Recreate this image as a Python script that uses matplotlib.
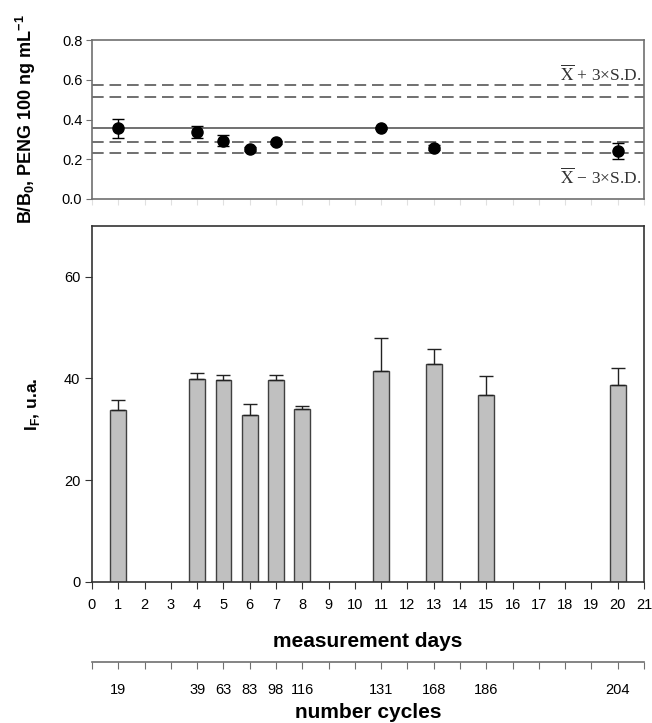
import matplotlib
matplotlib.use('Agg')
import matplotlib.pyplot as plt

plt.rcParams['font.family'] = ['Liberation Sans', 'DejaVu Sans']
plt.rcParams['mathtext.fontset'] = 'custom'
plt.rcParams['mathtext.rm'] = 'Liberation Sans'
plt.rcParams['mathtext.bf'] = 'Liberation Sans:bold'

# === data ===
# top panel: B/B0 for PENG 100 ng/mL
bb_days = [1, 4, 5, 6, 7, 11, 13, 20]
bb_vals = [0.355, 0.336, 0.293, 0.252, 0.285, 0.356, 0.258, 0.242]
bb_err = [0.05, 0.031, 0.028, 0.01, 0.006, 0.006, 0.012, 0.04]

bb_mean = 0.355
bb_limits = [0.573, 0.515, 0.288, 0.233]

# bottom panel: fluorescence intensity
if_days = [1, 4, 5, 6, 7, 8, 11, 13, 15, 20]
if_vals = [33.8, 39.8, 39.7, 32.8, 39.7, 34.0, 41.5, 42.9, 36.8, 38.8]
if_err = [1.9, 1.3, 1.0, 2.1, 1.0, 0.6, 6.4, 2.8, 3.6, 3.3]

# number of cycles at each measurement day
cycles = [19, 39, 63, 83, 98, 116, 131, 168, 186, 204]

W, H = 652, 723
fig = plt.figure(figsize=(W / 100, H / 100), dpi=100)

left = 92 / W
right = 644 / W
ax1 = fig.add_axes([left, 1 - 199 / H, right - left, (199 - 40) / H])
ax2 = fig.add_axes([left, 1 - 581.7 / H, right - left, (581.7 - 226) / H])

# --- top panel ---
grey = '#707070'
ax1.axhline(bb_mean, color=grey, lw=1.4, zorder=1)
for v in bb_limits:
    ax1.axhline(v, color=grey, lw=1.4, ls=(0, (6, 3)), zorder=1)
ax1.errorbar(bb_days, bb_vals, yerr=bb_err, fmt='o', color='black', ms=8,
             ecolor='black', elinewidth=1, capsize=4, capthick=1, zorder=3)
ax1.set_xlim(0, 21)
ax1.set_ylim(0, 0.8)
ax1.set_yticks([0.0, 0.2, 0.4, 0.6, 0.8])
ax1.set_yticklabels(['0.0', '0.2', '0.4', '0.6', '0.8'])
ax1.set_xticks(range(22))
ax1.tick_params(axis='x', direction='out', length=4, color='#e0e0e0', labelbottom=False)
ax1.tick_params(axis='y', direction='out', length=4, color=grey, labelsize=10.5, pad=3)
for s in ax1.spines.values():
    s.set_color(grey)
    s.set_linewidth(1.2)

ax1.text(20.9, 0.624, r'$\overline{\mathrm{X}}$ + 3×S.D.', ha='right', va='center',
         fontsize=12.5, color='#333333', family='Liberation Serif', math_fontfamily='stix')
ax1.text(20.9, 0.106, r'$\overline{\mathrm{X}}$ − 3×S.D.', ha='right', va='center',
         fontsize=12.5, color='#333333', family='Liberation Serif', math_fontfamily='stix')

# --- bottom panel ---
dark = '#333333'
ax2.bar(if_days, if_vals, width=0.6, color='#c0c0c0', edgecolor='#404040', linewidth=1, zorder=2)
ax2.errorbar(if_days, if_vals, yerr=[[0] * len(if_err), if_err], fmt='none',
             ecolor='#222222', elinewidth=1, capsize=5, capthick=1, zorder=3)
ax2.set_xlim(0, 21)
ax2.set_ylim(0, 70)
ax2.set_yticks([0, 20, 40, 60])
ax2.set_xticks(range(22))
ax2.tick_params(axis='both', direction='out', length=5, color=dark, labelsize=10.5)
ax2.tick_params(axis='x', pad=7)
for s in ax2.spines.values():
    s.set_color(dark)
    s.set_linewidth(1.2)

# secondary axis with number of cycles
sec = ax2.secondary_xaxis(-(661.7 - 581.7) / (581.7 - 226))
sec.set_xticks(range(22))
cyc_labels = [''] * 22
for d, c in zip(if_days, cycles):
    cyc_labels[d] = str(c)
sec.set_xticklabels(cyc_labels)
sec.tick_params(direction='out', length=5, color=grey, labelsize=10.5, pad=10)
sec.spines['bottom'].set_color(grey)
sec.spines['bottom'].set_linewidth(1.2)

# labels
fig.text(368 / W, 1 - 641.7 / H, 'measurement days', ha='center', va='center',
         fontsize=15, fontweight='bold')
fig.text(368 / W, 1 - 713 / H, 'number cycles', ha='center', va='center',
         fontsize=15, fontweight='bold')
fig.text(26 / W, 1 - 119 / H, r'B/B$_\mathbf{0}$, PENG 100 ng mL$^\mathbf{-1}$', rotation=90,
         ha='center', va='center', fontsize=13, fontweight='bold')
fig.text(32 / W, 1 - 404 / H, r'I$_\mathbf{F}$, u.a.', rotation=90,
         ha='center', va='center', fontsize=12.5, fontweight='bold')

plt.savefig('out.png', dpi=100)
